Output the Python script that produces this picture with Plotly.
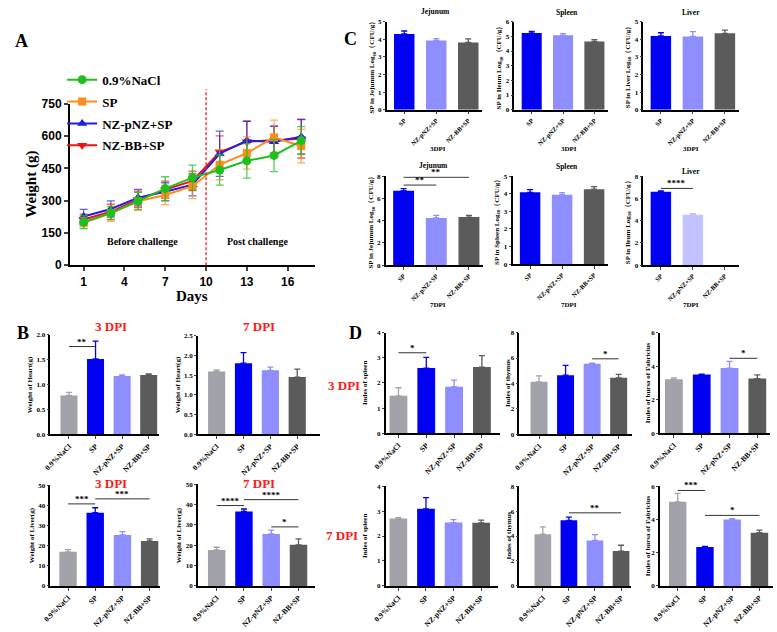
import plotly.graph_objects as go

W, H = 777, 632
SERIF = "Liberation Serif"
SANS = "Liberation Sans"

# ---------------- Panel A data ----------------
days = [1, 3, 5, 7, 9, 11, 13, 15, 17]
series_names = ["0.9%NaCl", "SP", "NZ-pNZ+SP", "NZ-BB+SP"]
w_nacl = [200, 242, 298, 356, 407, 442, 485, 510, 579]
w_sp = [197, 242, 297, 326, 367, 467, 521, 594, 553]
w_pnz = [226, 261, 314, 341, 374, 518, 579, 574, 597]
w_bb = [212, 248, 306, 351, 392, 526, 574, 580, 588]
e_nacl = [30, 30, 40, 55, 58, 70, 80, 75, 65]
e_sp = [25, 38, 42, 45, 58, 70, 75, 80, 78]
e_pnz = [33, 38, 38, 42, 52, 105, 90, 72, 80]
e_bb = [25, 35, 38, 40, 45, 75, 95, 65, 90]
day_ticks = [1, 4, 7, 10, 13, 16]
weight_ticks = [0, 150, 300, 450, 600, 750]
challenge_day = 10

# ---------------- Bar panel data ----------------
grp3 = ["SP", "NZ-pNZ+SP", "NZ-BB+SP"]
grp4 = ["0.9%NaCl", "SP", "NZ-pNZ+SP", "NZ-BB+SP"]

c_jej_3 = [4.30, 3.93, 3.82]; c_jej_3_e = [0.17, 0.11, 0.20]
c_spl_3 = [5.22, 5.07, 4.65]; c_spl_3_e = [0.11, 0.11, 0.13]
c_liv_3 = [4.19, 4.16, 4.34]; c_liv_3_e = [0.18, 0.27, 0.18]
c_jej_7 = [6.70, 4.24, 4.32]; c_jej_7_e = [0.18, 0.23, 0.15]
c_spl_7 = [4.08, 3.95, 4.26]; c_spl_7_e = [0.15, 0.11, 0.15]
c_liv_7 = [6.59, 4.53, 0.0]; c_liv_7_e = [0.09, 0.09, 0.0]

heart_3 = [0.78, 1.51, 1.17, 1.19]; heart_3_e = [0.06, 0.36, 0.02, 0.02]
heart_7 = [1.59, 1.80, 1.62, 1.45]; heart_7_e = [0.04, 0.27, 0.08, 0.20]
liver_3 = [16.9, 36.3, 25.3, 22.3]; liver_3_e = [1.1, 2.5, 1.6, 1.0]
liver_7 = [17.7, 36.6, 25.5, 20.2]; liver_7_e = [1.3, 1.2, 1.9, 2.9]

spleen_i3 = [1.49, 2.59, 1.85, 2.63]; spleen_i3_e = [0.32, 0.43, 0.26, 0.46]
thymus_i3 = [4.13, 4.65, 5.55, 4.44]; thymus_i3_e = [0.46, 0.77, 0.05, 0.28]
bursa_i3 = [3.22, 3.50, 3.89, 3.26]; bursa_i3_e = [0.08, 0.03, 0.40, 0.22]
spleen_i7 = [2.70, 3.09, 2.54, 2.53]; spleen_i7_e = [0.04, 0.45, 0.12, 0.11]
thymus_i7 = [4.14, 5.26, 3.65, 2.79]; thymus_i7_e = [0.60, 0.26, 0.46, 0.47]
bursa_i7 = [5.06, 2.34, 4.00, 3.20]; bursa_i7_e = [0.51, 0.04, 0.04, 0.16]

# significance brackets: (from group index, to group index, height, label)
sig_c_jej_7 = [(0, 1, 7.2, "**"), (0, 2, 7.9, "**")]
sig_c_liv_7 = [(0, 1, 6.9, "****")]
sig_heart_3 = [(0, 1, 1.76, "**")]
sig_liver_3 = [(0, 1, 40.7, "***"), (1, 3, 43.2, "***")]
sig_liver_7 = [(0, 1, 39.5, "****"), (1, 3, 42.4, "****"), (2, 3, 29.0, "*")]
sig_spleen_i3 = [(0, 1, 3.2, "*")]
sig_thymus_i3 = [(2, 3, 5.94, "*")]
sig_bursa_i3 = [(2, 3, 4.47, "*")]
sig_thymus_i7 = [(1, 3, 5.86, "**")]
sig_bursa_i7 = [(0, 1, 5.74, "***"), (1, 3, 4.24, "*")]

COL = {"0.9%NaCl": "#a2a2aa", "SP": "#0000f2", "NZ-pNZ+SP": "#8e8eff", "NZ-BB+SP": "#5b5b5b"}
LINE_COL = {"0.9%NaCl": "#1ec01e", "SP": "#ff8c1a", "NZ-pNZ+SP": "#2020e0", "NZ-BB+SP": "#f01010"}
LINE_ERRCOL = {"0.9%NaCl": "rgba(30,192,30,0.75)", "SP": "rgba(255,140,26,0.7)",
               "NZ-pNZ+SP": "rgba(32,32,224,0.7)", "NZ-BB+SP": "rgba(240,16,16,0.7)"}


def sfx(k):
    return "" if k == 1 else str(k)


fig = go.Figure()
layout = {}
annotations = []
shapes = []


def ann_px(x, y, text, size, color="black", angle=0, family=SERIF, xanchor="center", yanchor="middle", bold=True):
    annotations.append(dict(x=x / W, y=1 - y / H, xref="paper", yref="paper", text=text, showarrow=False,
                            textangle=angle, xanchor=xanchor, yanchor=yanchor,
                            font=dict(family=family, size=size, color=color, weight="bold" if bold else "normal")))


# ---------------- Panel A ----------------
a_series = [("NZ-BB+SP", w_bb, e_bb, "triangle-down"), ("NZ-pNZ+SP", w_pnz, e_pnz, "triangle-up"),
            ("SP", w_sp, e_sp, "square"), ("0.9%NaCl", w_nacl, e_nacl, "circle")]
for name, vals, errs, sym in a_series:
    fig.add_trace(go.Scatter(
        x=days, y=vals, name=name, mode="lines+markers", legendrank=series_names.index(name) + 1,
        legendgroup=name,
        line=dict(color=LINE_COL[name], width=2),
        marker=dict(symbol=sym, size=9 if sym != "square" else 8, color=LINE_COL[name]),
        error_y=dict(type="data", array=errs, color=LINE_ERRCOL[name], thickness=1.3, width=4),
        xaxis="x", yaxis="y", showlegend=True, cliponaxis=False))

layout["xaxis"] = dict(domain=[58 / W, 307 / W], range=[0, 18], anchor="y", showline=True, linecolor="black",
                       linewidth=2, ticks="outside", ticklen=4, tickwidth=2, tickvals=day_ticks,
                       tickfont=dict(family=SANS, size=12, weight="bold", color="black"),
                       showgrid=False, zeroline=False)
layout["yaxis"] = dict(domain=[1 - 264 / H, 1 - 99 / H], range=[0, 750], anchor="x", showline=True,
                       linecolor="black", linewidth=2, ticks="outside", ticklen=4, tickwidth=2,
                       tickvals=weight_ticks, tickfont=dict(family=SANS, size=12, weight="bold", color="black"),
                       showgrid=False, zeroline=False)
shapes.append(dict(type="line", xref="x", yref="paper", x0=challenge_day, x1=challenge_day,
                   y0=1 - 264 / H, y1=1 - 84 / H, line=dict(color="#e82020", width=1.3, dash="3px,2px")))
annotations.append(dict(x=5.3, y=109, xref="x", yref="y", text="Before challenge", showarrow=False,
                        font=dict(family=SERIF, size=10, weight="bold", color="black")))
annotations.append(dict(x=13.8, y=109, xref="x", yref="y", text="Post challenge", showarrow=False,
                        font=dict(family=SERIF, size=10, weight="bold", color="black")))
ann_px(19, 181, "Weight (g)", 15, angle=-90)
ann_px(182, 296, "Days", 15)

# ---------------- bar subplot helper ----------------
k_counter = [1]


def bar_panel(xpx, ypx, yr, dtick, tfmt, xr, groups, vals, errs, ytitle, ytx, sigs=(), colors=None,
              title=None, title_pos=None, title_size=7.5, title_color="black", cat_size=7.5):
    k_counter[0] += 1
    k = k_counter[0]
    xa, ya = "x" + sfx(k), "y" + sfx(k)
    for i, g in enumerate(groups):
        c = colors[i] if colors else COL[g]
        fig.add_trace(go.Bar(x=[i], y=[vals[i]], width=0.64, marker=dict(color=c, line=dict(width=0)),
                             error_y=dict(type="data", symmetric=False, array=[errs[i]], arrayminus=[0],
                                          color=c, thickness=1.3, width=3, visible=errs[i] > 0),
                             xaxis=xa, yaxis=ya, showlegend=False))
    layout["xaxis" + sfx(k)] = dict(domain=[xpx[0] / W, xpx[1] / W], range=xr, anchor=ya, showline=True,
                                    linecolor="black", linewidth=1.5, ticks="outside", ticklen=3, tickwidth=1,
                                    tickvals=list(range(len(groups))), ticktext=groups, tickangle=-45,
                                    tickfont=dict(family=SERIF, size=cat_size, weight="bold", color="black"),
                                    showgrid=False, zeroline=False)
    layout["yaxis" + sfx(k)] = dict(domain=[1 - ypx[1] / H, 1 - ypx[0] / H], range=yr, anchor=xa, showline=True,
                                    linecolor="black", linewidth=1.5, ticks="outside", ticklen=2, tickwidth=1,
                                    dtick=dtick, tick0=0, tickformat=tfmt,
                                    tickfont=dict(family=SERIF, size=7, weight="bold", color="black"),
                                    showgrid=False, zeroline=False)
    for (i, j, h, lab) in sigs:
        shapes.append(dict(type="line", xref=xa, yref=ya, x0=i, x1=j, y0=h, y1=h,
                           line=dict(color="#333333", width=1)))
        annotations.append(dict(x=(i + j) / 2, y=h, xref=xa, yref=ya, text=lab, showarrow=False,
                                yanchor="bottom", yshift=-2,
                                font=dict(family=SERIF, size=9, weight="bold", color="black")))
    ann_px(ytx, (ypx[0] + ypx[1]) / 2, ytitle, 7, angle=-90)
    if title:
        ann_px(title_pos[0], title_pos[1], title, title_size, color=title_color)


L10 = "Log<sub>10</sub>（CFU/g）"
# ---------------- Panel C ----------------
xr3 = [-0.55, 2.43]
bar_panel((380, 477), (15, 105), [0, 5], 1, "d", xr3, grp3, c_jej_3, c_jej_3_e,
          "SP in Jejunum " + L10, 365, title="Jejunum", title_pos=(430, 5), cat_size=6.5)
bar_panel((510, 605), (15, 105), [0, 6], 1, "d", xr3, grp3, c_spl_3, c_spl_3_e,
          "SP in Ileum " + L10, 494, title="Spleen", title_pos=(563, 6), cat_size=6.5)
bar_panel((641, 738), (15, 105), [0, 5], 1, "d", xr3, grp3, c_liv_3, c_liv_3_e,
          "SP in Liver " + L10, 625, title="Liver", title_pos=(690, 6), cat_size=6.5)
bar_panel((379, 478), (173, 264), [0, 8], 2, "d", xr3, grp3, c_jej_7, c_jej_7_e,
          "SP in Jejunum " + L10, 364, sigs=sig_c_jej_7, title="Jejunum", title_pos=(428, 162), cat_size=6.5)
bar_panel((508, 605), (173, 263), [0, 5], 1, "d", xr3, grp3, c_spl_7, c_spl_7_e,
          "SP in Spleen " + L10, 492, title="Spleen", title_pos=(563, 163), cat_size=6.5)
bar_panel((641, 738), (173, 264), [0, 8], 2, "d", xr3, grp3, c_liv_7, c_liv_7_e,
          "SP in Ileum " + L10, 625, sigs=sig_c_liv_7,
          colors=[COL["SP"], "#c2c2ff", COL["NZ-BB+SP"]], title="Liver", title_pos=(690, 168), cat_size=6.5)
for xx in (432, 565, 690):
    ann_px(xx, 145, "3DPI", 7)
    ann_px(xx, 305, "7DPI", 7)

# ---------------- Panel B ----------------
bar_panel((38, 148), (335, 437), [0, 2.0], 0.5, ".1f", [-0.7, 3.37], grp4, heart_3, heart_3_e,
          "Weight of Heart(g)", 18, sigs=sig_heart_3, title="3 DPI", title_pos=(100, 327),
          title_size=13, title_color="#ff1a1a")
bar_panel((188, 312), (336, 437), [0, 2.5], 0.5, ".1f", [-0.7, 3.84], grp4, heart_7, heart_7_e,
          "Weight of Heart(g)", 168, title="7 DPI", title_pos=(250, 327),
          title_size=13, title_color="#ff1a1a")
bar_panel((38, 150), (489, 592), [0, 50], 10, "d", [-0.65, 3.4], grp4, liver_3, liver_3_e,
          "Weight of Liver(g)", 19, sigs=sig_liver_3, title="3 DPI", title_pos=(100, 487),
          title_size=13, title_color="#ff1a1a")
bar_panel((188, 307), (488, 592), [0, 50], 10, "d", [-0.69, 3.6], grp4, liver_7, liver_7_e,
          "Weight of Liver(g)", 169, sigs=sig_liver_7, title="7 DPI", title_pos=(250, 487),
          title_size=13, title_color="#ff1a1a")

# ---------------- Panel D ----------------
bar_panel((379, 495), (333, 436), [0, 4], 1, "d", [-0.46, 3.64], grp4, spleen_i3, spleen_i3_e,
          "Indes of spleen", 358, sigs=sig_spleen_i3)
bar_panel((515, 630), (333, 437), [0, 8], 2, "d", [-0.74, 3.52], grp4, thymus_i3, thymus_i3_e,
          "Indes of thymus", 504, sigs=sig_thymus_i3)
bar_panel((658, 770), (333, 436), [0, 6], 2, "d", [-0.5, 3.46], grp4, bursa_i3, bursa_i3_e,
          "Indes of bursa of Fabricius", 646, sigs=sig_bursa_i3)
bar_panel((379, 493), (490, 592), [0, 4], 1, "d", [-0.46, 3.6], grp4, spleen_i7, spleen_i7_e,
          "Indes of spleen", 358)
bar_panel((515, 629), (490, 592), [0, 8], 2, "d", [-0.9, 3.4], grp4, thymus_i7, thymus_i7_e,
          "Indes of thymus", 504, sigs=sig_thymus_i7)
bar_panel((658, 773), (490, 592), [0, 6], 2, "d", [-0.65, 3.5], grp4, bursa_i7, bursa_i7_e,
          "Indes of bursa of Fabricius", 646, sigs=sig_bursa_i7)

ann_px(337, 387, "3 DPI", 13, color="#ff1a1a")
ann_px(335, 540, "7 DPI", 13, color="#ff1a1a")

# panel letters
for lx, ly, lt in [(9, 35, "A"), (343, 33, "C"), (10, 333, "B"), (348, 333, "D")]:
    ann_px(lx, ly, lt, 18)

fig.update_layout(**layout)
fig.update_layout(
    width=W, height=H, margin=dict(l=0, r=0, t=0, b=0), paper_bgcolor="white", plot_bgcolor="white",
    barmode="overlay", annotations=annotations, shapes=shapes,
    legend=dict(x=50 / W, y=1 - 59 / H, xanchor="left", yanchor="top", bgcolor="rgba(0,0,0,0)",
                font=dict(family=SERIF, size=13, weight="bold", color="black"), itemwidth=30,
                tracegroupgap=2),
)
fig.write_html("out.html")
